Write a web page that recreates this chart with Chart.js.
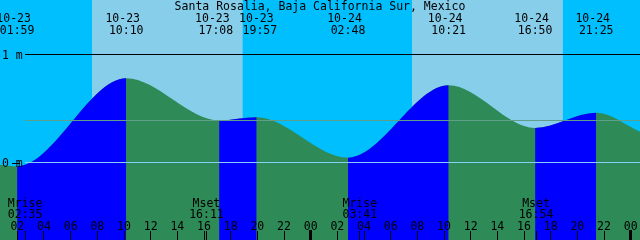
<!DOCTYPE html>
<html>
<head>
<meta charset="utf-8">
<script src="https://cdn.jsdelivr.net/npm/chart.js@4"></script>
<style>
  html, body { margin: 0; padding: 0; background: #00bfff; }
  canvas { display: block; }
</style>
</head>
<body>
<canvas id="chart" width="640" height="240"></canvas>
<script>
const station = "Santa Rosalia, Baja California Sur, Mexico";

// high and low tides
const tideDates = ["10-23", "10-23", "10-23", "10-23", "10-24", "10-24", "10-24", "10-24"];
const tideTimes = ["01:59", "10:10", "17:08", "19:57", "02:48", "10:21", "16:50", "21:25"];
const tideHeights = [-0.035, 0.78, 0.39, 0.42, 0.045, 0.715, 0.32, 0.46];

// the curve where it leaves the picture, left and right
const edgeTimes = ["10-23 00:42", "10-25 00:42"];
const edgeHeights = [-0.02, 0.285];

const sunrise = ["10-23 07:36", "10-24 07:36"];
const sunset = ["10-23 18:54", "10-24 18:55"];

const moonNames = ["Mrise", "Mset", "Mrise", "Mset"];
const moonDates = ["10-23", "10-23", "10-24", "10-24"];
const moonTimes = ["02:35", "16:11", "03:41", "16:54"];

const hourLabels = ["02", "04", "06", "08", "10", "12", "14", "16", "18", "20", "22", "00",
                    "02", "04", "06", "08", "10", "12", "14", "16", "18", "20", "22", "00"];

const levelLabels = ["1 m", "0 m"];
const levelValues = [1, 0];
const meanLevel = 0.389;

const NIGHT = "#00bfff";
const DAY = "#87ceeb";
const RISING = "#0000ff";
const FALLING = "#2e8b57";
const FONT = '11.5px "DejaVu Sans Mono", monospace';

// hours counted from 10-23 00:00
function toHours(stamp) {
  const [date, time] = stamp.split(" ");
  const day = parseInt(date.split("-")[1], 10) - 23;
  const [h, m] = time.split(":").map(Number);
  return day * 24 + h + m / 60;
}

function hourTickValues() {
  let day = 0;
  let prev = -1;
  return hourLabels.map((label) => {
    let h = parseInt(label, 10);
    if (h <= prev) day += 24;
    prev = h;
    return day + h;
  });
}

const points = [{ x: toHours(edgeTimes[0]), y: edgeHeights[0] }];
tideTimes.forEach((t, i) => {
  points.push({ x: toHours(`${tideDates[i]} ${t}`), y: tideHeights[i] });
});
points.push({ x: toHours(edgeTimes[1]), y: edgeHeights[1] });

const backdrop = {
  id: "backdrop",
  beforeDatasetsDraw(chart) {
    const { ctx, chartArea: a, scales: { x } } = chart;
    ctx.save();
    ctx.fillStyle = NIGHT;
    ctx.fillRect(a.left, a.top, a.right - a.left, a.bottom - a.top);
    ctx.fillStyle = DAY;
    sunrise.forEach((s, i) => {
      const x0 = x.getPixelForValue(toHours(s));
      const x1 = x.getPixelForValue(toHours(sunset[i]));
      ctx.fillRect(x0, a.top, x1 - x0, a.bottom - a.top);
    });
    ctx.restore();
  },
};

function hline(ctx, y, color, x0, x1) {
  ctx.fillStyle = color;
  ctx.fillRect(x0, Math.floor(y), x1 - x0, 1);
}

const overlay = {
  id: "overlay",
  afterDatasetsDraw(chart) {
    const { ctx, chartArea: a, scales: { x, y } } = chart;
    ctx.save();

    // level lines
    hline(ctx, y.getPixelForValue(1), "#000000", 25, a.right);
    hline(ctx, y.getPixelForValue(meanLevel), "#5f9f8a", 25, a.right);
    hline(ctx, y.getPixelForValue(0), "#87cefa", 25, a.right);

    ctx.font = FONT;
    ctx.fillStyle = "#000";
    ctx.textBaseline = "alphabetic";

    // level labels
    ctx.textAlign = "left";
    levelLabels.forEach((label, i) => {
      const py = y.getPixelForValue(levelValues[i]);
      ctx.fillText(label, 2, py + 4);
    });
    ctx.fillRect(12, Math.floor(y.getPixelForValue(0)) + 1, 8, 1);

    // title
    ctx.textAlign = "center";
    ctx.fillText(station, (a.left + a.right) / 2, 10);

    // tide labels, pushed apart where they would touch
    const centers = tideTimes.map((t, i) => x.getPixelForValue(toHours(`${tideDates[i]} ${t}`)));
    for (let i = 1; i < centers.length; i++) {
      const gap = centers[i] - centers[i - 1];
      if (gap < 44) {
        const d = (44 - gap) / 2;
        centers[i - 1] -= d;
        centers[i] += d;
      }
    }
    tideTimes.forEach((t, i) => {
      ctx.fillText(tideDates[i], centers[i] - 3.5, 22);
      ctx.fillText(t, centers[i], 34);
    });

    // moon events
    moonNames.forEach((name, i) => {
      const px = x.getPixelForValue(toHours(`${moonDates[i]} ${moonTimes[i]}`));
      ctx.fillText(name, px, 207);
      ctx.fillText(moonTimes[i], px, 218);
      ctx.fillRect(Math.floor(px), 231, 1, 9);
    });

    // hour ticks
    const ticks = hourTickValues();
    ticks.forEach((h, i) => {
      const px = x.getPixelForValue(h);
      ctx.fillText(hourLabels[i], px, 230);
      if (hourLabels[i] === "00") {
        ctx.fillRect(Math.floor(px) - 1, 230, 3, 10);
      } else {
        ctx.fillRect(Math.floor(px), 231, 1, 9);
      }
    });

    ctx.restore();
  },
};

const canvas = document.getElementById("chart");

new Chart(canvas, {
  type: "line",
  data: {
    datasets: [
      {
        // rising water, drawn on top
        data: points,
        fill: "start",
        cubicInterpolationMode: "monotone",
        borderWidth: 0,
        borderColor: "rgba(0,0,0,0)",
        backgroundColor: RISING,
        pointRadius: 0,
        segment: {
          backgroundColor: (c) => (c.p1.parsed.y >= c.p0.parsed.y ? RISING : "rgba(0,0,0,0)"),
        },
      },
      {
        // whole curve in ebb colour underneath
        data: points,
        fill: "start",
        cubicInterpolationMode: "monotone",
        borderWidth: 0,
        borderColor: "rgba(0,0,0,0)",
        backgroundColor: FALLING,
        pointRadius: 0,
      },
    ],
  },
  options: {
    responsive: false,
    animation: false,
    layout: { padding: 0 },
    plugins: { legend: { display: false }, tooltip: { enabled: false } },
    scales: {
      x: { type: "linear", min: 0.7, max: 48.7, display: false },
      y: { type: "linear", min: -0.71759, max: 1.50463, display: false },
    },
  },
  plugins: [backdrop, overlay],
});
</script>
</body>
</html>
